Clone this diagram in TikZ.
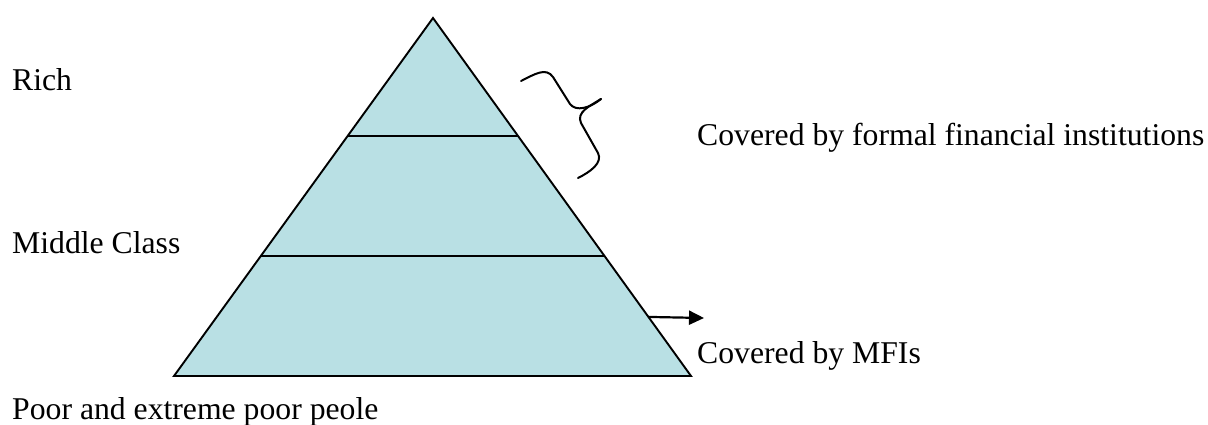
\documentclass[tikz,border=0pt]{standalone}
\usepackage{fontspec}
\setmainfont{Liberation Serif}
\usetikzlibrary{arrows.meta,calc}
\definecolor{pyr}{RGB}{185,224,228}
\tikzset{
  lbl/.style={anchor=base west, inner sep=0pt, font=\fontsize{31.7}{36}\selectfont},
  edge/.style={line width=1.9pt, line join=miter},
  band/.style={line width=2.4pt},
  brace/.style={line width=2pt, line cap=round, line join=round},
}
\begin{document}
\begin{tikzpicture}[x=1pt,y=-1pt]
\useasboundingbox (0,0) rectangle (1208,425);
\coordinate (apex) at (433,18);
\coordinate (bl) at (174,376);
\coordinate (br) at (691,376);
\coordinate (t1l) at ($(apex)!0.3296!(bl)$);
\coordinate (t1r) at ($(apex)!0.3296!(br)$);
\coordinate (t2l) at ($(apex)!0.665!(bl)$);
\coordinate (t2r) at ($(apex)!0.665!(br)$);
\coordinate (as) at ($(apex)!0.835!(br)$);
\coordinate (ae) at (704,318);
\fill[pyr] (apex) -- (bl) -- (br) -- cycle;
\draw[edge] (apex) -- (bl) -- (br) -- cycle;
\draw[band] (t1l) -- (t1r);
\draw[band] (t2l) -- (t2r);
\draw[line width=2.2pt, -{Triangle[length=15pt,width=14pt]}] (as) -- (ae);
\draw[brace] (521,81) .. controls (535,74) and (546,67) .. (553,77) -- (570,104)
  .. controls (576,112) and (590,108) .. (601,99);
\draw[brace] (601,99) .. controls (590,106) and (576,112) .. (581,123) -- (598,153)
  .. controls (603,163) and (590,172) .. (578,178);
\node[lbl] (rich) at (12,91) {Rich};
\node[lbl] (mid) at (12,253) {Middle Class};
\node[lbl] (poor) at (12,419) {Poor and extreme poor peole};
\node[lbl] (formal) at (697,146) {Covered by formal financial institutions};
\node[lbl] (mfi) at (697,363) {Covered by MFIs};
\end{tikzpicture}
\end{document}
